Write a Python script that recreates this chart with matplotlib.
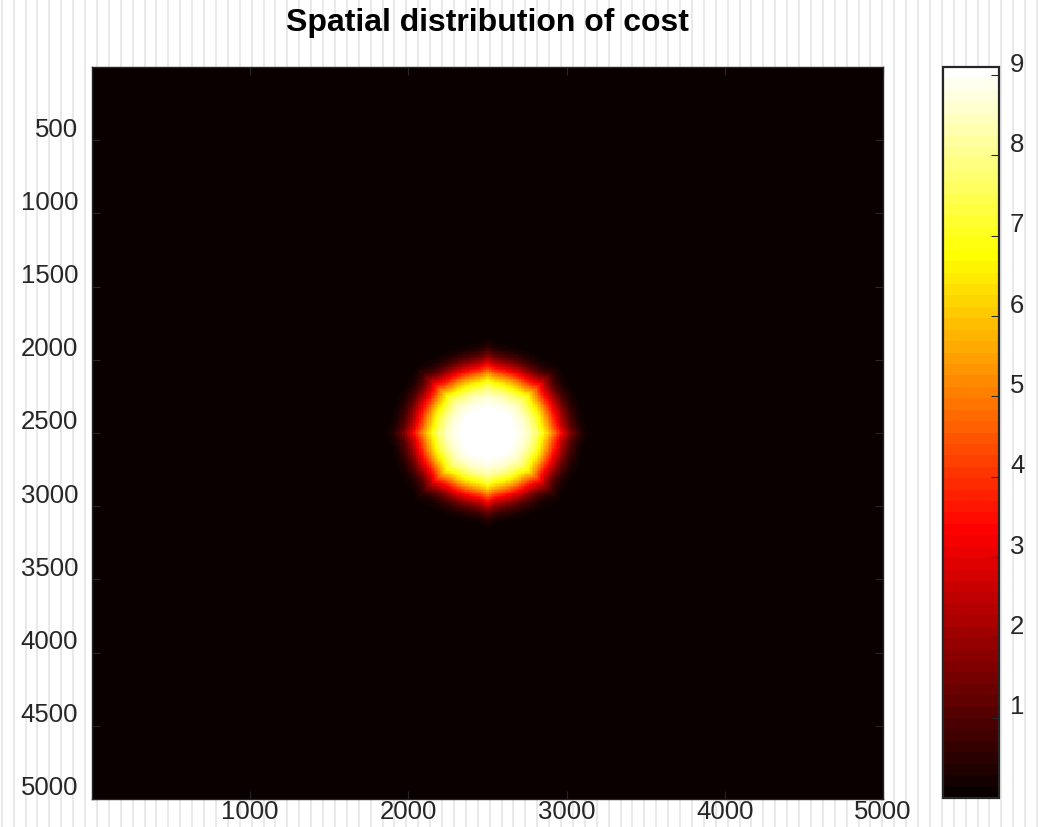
import numpy as np
import matplotlib
matplotlib.use("Agg")
import matplotlib.pyplot as plt
import matplotlib.transforms as mtransforms
from matplotlib.colors import ListedColormap

plt.rcParams['font.family'] = ['Liberation Sans', 'DejaVu Sans']

# domain and cost hot-spot
grid_n = 500
x_max = 5000
y_max = 5000
spot_x = 2500
spot_y = 2500
peak_cost = 9.1
spot_radius = 445
spot_sharpness = 4.5
star_points = 8
star_depth = 0.06

x_ticks = [1000, 2000, 3000, 4000, 5000]
y_ticks = [500, 1000, 1500, 2000, 2500, 3000, 3500, 4000, 4500, 5000]
cbar_ticks = [1, 2, 3, 4, 5, 6, 7, 8, 9]
title = "Spatial distribution of cost"

# MATLAB style "hot" map with 64 steps
n = 64
n1 = int(3 * n / 8)
red = np.r_[np.arange(1, n1 + 1) / n1, np.ones(n - n1)]
green = np.r_[np.zeros(n1), np.arange(1, n1 + 1) / n1, np.ones(n - 2 * n1)]
blue = np.r_[np.zeros(2 * n1), np.arange(1, n - 2 * n1 + 1) / (n - 2 * n1)]
hot64 = ListedColormap(np.c_[red, green, blue])

xs = np.linspace(0, x_max, grid_n)
ys = np.linspace(0, y_max, grid_n)
X, Y = np.meshgrid(xs, ys)
dx = X - spot_x
dy = Y - spot_y
r = np.hypot(dx, dy)
theta = np.arctan2(dy, dx)
tips = (1 - np.abs(np.sin(star_points / 2 * theta))) ** 3
r_eff = r / (1 + star_depth * tips)
cost = peak_cost * np.exp(-(r_eff / spot_radius) ** spot_sharpness)

W, H = 1048, 828
fig = plt.figure(figsize=(W / 100, H / 100), dpi=100)
fig.patch.set_facecolor('white')

# striped backdrop
bg = fig.add_axes([0, 0, 1, 1])
bg.set_zorder(-5)
bg.set_xlim(0, W)
bg.set_ylim(0, H)
bg.axis('off')
for sx in np.arange(1.7, W, 11.9):
    bg.axvline(sx, color='#e3e3e3', lw=1.1)

ink = '#262626'
ax = fig.add_axes([92 / W, 1 - 800 / H, 791 / W, 732 / H])
im = ax.imshow(cost, cmap=hot64, vmin=0, vmax=cost.max(), aspect='auto',
               extent=(0, x_max, y_max, 0), interpolation='nearest')
ax.set_xlim(0, x_max)
ax.set_ylim(y_max, 0)
ax.set_xticks(x_ticks)
ax.set_yticks(y_ticks)
ax.tick_params(direction='in', length=6, width=0.8, color=ink, labelcolor=ink,
               labelsize=18.5, top=True, right=True)
ax.tick_params(axis='x', pad=0)
ax.tick_params(axis='y', pad=10)
for sp in ax.spines.values():
    sp.set_color(ink)
    sp.set_linewidth(1.0)

shift = mtransforms.ScaledTranslation(0, 0.14, fig.dpi_scale_trans)
for lbl in ax.get_yticklabels():
    lbl.set_transform(lbl.get_transform() + shift)

fig.text(487.5 / W, 1 - 23 / H, title, ha='center', va='center',
         fontsize=23, fontweight='bold', color='black')

cax = fig.add_axes([943 / W, 1 - 799 / H, 56 / W, 731 / H])
cb = fig.colorbar(im, cax=cax, ticks=cbar_ticks)
cb.ax.tick_params(direction='in', length=6, width=0.8, color=ink, labelcolor=ink,
                  labelsize=18.5, pad=8)
cb.outline.set_edgecolor(ink)
cb.outline.set_linewidth(1.6)
for lbl in cb.ax.get_yticklabels():
    lbl.set_transform(lbl.get_transform() + shift)

fig.savefig('out.png', dpi=100, facecolor='white')
